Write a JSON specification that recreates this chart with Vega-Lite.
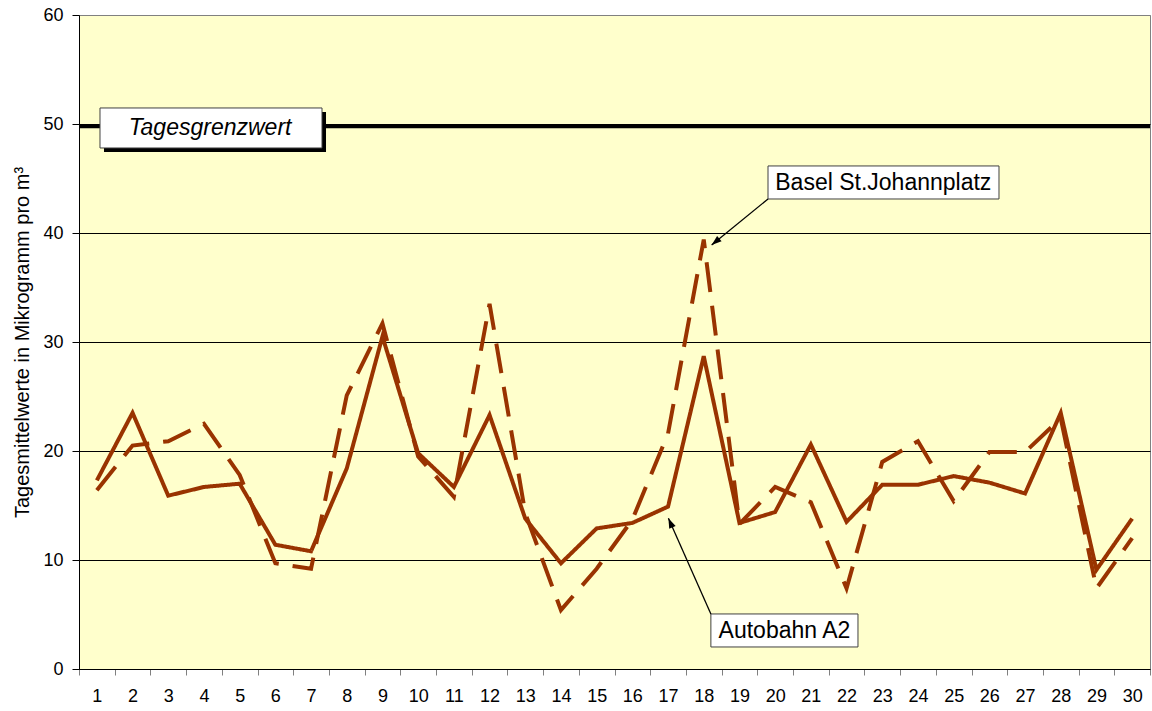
{
  "$schema": "https://vega.github.io/schema/vega-lite/v6.json",
  "width": 1071,
  "height": 654,
  "autosize": {"type": "none"},
  "padding": {"left": 79, "top": 15, "right": 2, "bottom": 42},
  "background": "white",
  "config": {
    "view": {"fill": "#FFFFCC", "stroke": "#808080", "strokeWidth": 1},
    "font": "Liberation Sans"
  },
  "datasets": {
    "series": [
      {"day": 1, "station": "Autobahn A2", "value": 17.3},
      {"day": 2, "station": "Autobahn A2", "value": 23.5},
      {"day": 3, "station": "Autobahn A2", "value": 15.9},
      {"day": 4, "station": "Autobahn A2", "value": 16.7},
      {"day": 5, "station": "Autobahn A2", "value": 17.0},
      {"day": 6, "station": "Autobahn A2", "value": 11.4},
      {"day": 7, "station": "Autobahn A2", "value": 10.8},
      {"day": 8, "station": "Autobahn A2", "value": 18.4},
      {"day": 9, "station": "Autobahn A2", "value": 30.5},
      {"day": 10, "station": "Autobahn A2", "value": 19.8},
      {"day": 11, "station": "Autobahn A2", "value": 16.7},
      {"day": 12, "station": "Autobahn A2", "value": 23.3},
      {"day": 13, "station": "Autobahn A2", "value": 13.8},
      {"day": 14, "station": "Autobahn A2", "value": 9.7},
      {"day": 15, "station": "Autobahn A2", "value": 12.9},
      {"day": 16, "station": "Autobahn A2", "value": 13.4},
      {"day": 17, "station": "Autobahn A2", "value": 14.9},
      {"day": 18, "station": "Autobahn A2", "value": 28.7},
      {"day": 19, "station": "Autobahn A2", "value": 13.4},
      {"day": 20, "station": "Autobahn A2", "value": 14.4},
      {"day": 21, "station": "Autobahn A2", "value": 20.6},
      {"day": 22, "station": "Autobahn A2", "value": 13.5},
      {"day": 23, "station": "Autobahn A2", "value": 16.9},
      {"day": 24, "station": "Autobahn A2", "value": 16.9},
      {"day": 25, "station": "Autobahn A2", "value": 17.7},
      {"day": 26, "station": "Autobahn A2", "value": 17.1},
      {"day": 27, "station": "Autobahn A2", "value": 16.1},
      {"day": 28, "station": "Autobahn A2", "value": 23.5},
      {"day": 29, "station": "Autobahn A2", "value": 9.1},
      {"day": 30, "station": "Autobahn A2", "value": 13.8},
      {"day": 1, "station": "Basel St.Johannplatz", "value": 16.4},
      {"day": 2, "station": "Basel St.Johannplatz", "value": 20.5},
      {"day": 3, "station": "Basel St.Johannplatz", "value": 20.9},
      {"day": 4, "station": "Basel St.Johannplatz", "value": 22.5},
      {"day": 5, "station": "Basel St.Johannplatz", "value": 17.8},
      {"day": 6, "station": "Basel St.Johannplatz", "value": 9.7},
      {"day": 7, "station": "Basel St.Johannplatz", "value": 9.2},
      {"day": 8, "station": "Basel St.Johannplatz", "value": 25.1},
      {"day": 9, "station": "Basel St.Johannplatz", "value": 31.7},
      {"day": 10, "station": "Basel St.Johannplatz", "value": 19.5},
      {"day": 11, "station": "Basel St.Johannplatz", "value": 15.8},
      {"day": 12, "station": "Basel St.Johannplatz", "value": 33.5},
      {"day": 13, "station": "Basel St.Johannplatz", "value": 14.3},
      {"day": 14, "station": "Basel St.Johannplatz", "value": 5.4},
      {"day": 15, "station": "Basel St.Johannplatz", "value": 9.2},
      {"day": 16, "station": "Basel St.Johannplatz", "value": 13.7},
      {"day": 17, "station": "Basel St.Johannplatz", "value": 21.6},
      {"day": 18, "station": "Basel St.Johannplatz", "value": 39.4},
      {"day": 19, "station": "Basel St.Johannplatz", "value": 13.3},
      {"day": 20, "station": "Basel St.Johannplatz", "value": 16.7},
      {"day": 21, "station": "Basel St.Johannplatz", "value": 15.3},
      {"day": 22, "station": "Basel St.Johannplatz", "value": 7.4},
      {"day": 23, "station": "Basel St.Johannplatz", "value": 19.0},
      {"day": 24, "station": "Basel St.Johannplatz", "value": 20.9},
      {"day": 25, "station": "Basel St.Johannplatz", "value": 15.4},
      {"day": 26, "station": "Basel St.Johannplatz", "value": 19.9},
      {"day": 27, "station": "Basel St.Johannplatz", "value": 19.9},
      {"day": 28, "station": "Basel St.Johannplatz", "value": 23.0},
      {"day": 29, "station": "Basel St.Johannplatz", "value": 7.4},
      {"day": 30, "station": "Basel St.Johannplatz", "value": 12.0}
    ],
    "limit": [{"name": "Tagesgrenzwert", "value": 50}],
    "boxes": [
      {"label": "Tagesgrenzwert", "x1": 1.088, "x2": 7.307, "y1": 51.47, "y2": 47.8, "tx": 4.17, "ty": 49.63},
      {"label": "Basel St.Johannplatz", "x1": 19.8, "x2": 26.27, "y1": 46.15, "y2": 43.12, "tx": 23.03, "ty": 44.63},
      {"label": "Autobahn A2", "x1": 18.2, "x2": 22.32, "y1": 5.05, "y2": 2.02, "tx": 20.26, "ty": 3.53}
    ],
    "arrows": [
      {"label": "Basel St.Johannplatz", "x1": 19.8, "y1": 43.12, "x2": 18.22, "y2": 38.9},
      {"label": "Autobahn A2", "x1": 18.2, "y1": 5.05, "x2": 17.01, "y2": 13.83}
    ]
  },
  "layer": [
    {
      "data": {"name": "series"},
      "mark": {"type": "line", "color": "#993300", "strokeWidth": 4, "strokeCap": "butt"},
      "encoding": {
        "x": {
          "field": "day", "type": "quantitative",
          "scale": {"domain": [0.5, 30.5], "nice": false, "zero": false},
          "axis": {
            "values": [0.5, 1.5, 2.5, 3.5, 4.5, 5.5, 6.5, 7.5, 8.5, 9.5, 10.5, 11.5, 12.5, 13.5, 14.5, 15.5, 16.5, 17.5, 18.5, 19.5, 20.5, 21.5, 22.5, 23.5, 24.5, 25.5, 26.5, 27.5, 28.5, 29.5, 30.5],
            "tickCount": 40,
            "labelOffset": 17.85,
            "labelExpr": "datum.value > 30 ? '' : format(datum.value + 0.5, 'd')",
            "title": null, "grid": false, "tickSize": 6, "tickColor": "#808080",
            "domainColor": "black", "labelFontSize": 18, "labelColor": "black",
            "labelPadding": 12, "labelOverlap": false, "labelFlush": false,
            "labelFont": "Liberation Sans"
          }
        },
        "y": {
          "field": "value", "type": "quantitative",
          "scale": {"domain": [0, 60], "nice": false},
          "axis": {
            "values": [0, 10, 20, 30, 40, 50, 60],
            "grid": true,
            "gridColor": {"condition": {"test": "datum.value == 60", "value": "#808080"}, "value": "black"},
            "gridWidth": 1, "tickSize": 7, "tickColor": "black", "domainColor": "black",
            "labelFontSize": 18, "labelColor": "black", "labelPadding": 9, "labelFont": "Liberation Sans",
            "title": "Tagesmittelwerte in Mikrogramm pro m³",
            "titleFontSize": 20, "titleFontWeight": "normal", "titleFont": "Liberation Sans",
            "titleColor": "black", "titleAngle": 270, "titleX": -57, "titleY": 327,
            "titleAlign": "center", "titleBaseline": "middle"
          }
        },
        "strokeDash": {
          "field": "station", "type": "nominal",
          "scale": {"domain": ["Autobahn A2", "Basel St.Johannplatz"], "range": [[1, 0], [30, 14]]},
          "legend": null
        }
      }
    },
    {
      "data": {"name": "limit"},
      "mark": {"type": "rule", "color": "black", "strokeWidth": 3.5, "yOffset": 2.5},
      "encoding": {"y": {"field": "value", "type": "quantitative"}}
    },
    {
      "data": {"name": "boxes"},
      "transform": [{"filter": "datum.label == 'Tagesgrenzwert'"}],
      "mark": {"type": "rect", "fill": "black", "xOffset": 4, "x2Offset": 4, "yOffset": 4, "y2Offset": 4},
      "encoding": {
        "x": {"field": "x1", "type": "quantitative"},
        "x2": {"field": "x2"},
        "y": {"field": "y1", "type": "quantitative"},
        "y2": {"field": "y2"}
      }
    },
    {
      "data": {"name": "boxes"},
      "mark": {"type": "rect", "fill": "white", "stroke": "#404040", "strokeWidth": 1},
      "encoding": {
        "x": {"field": "x1", "type": "quantitative"},
        "x2": {"field": "x2"},
        "y": {"field": "y1", "type": "quantitative"},
        "y2": {"field": "y2"}
      }
    },
    {
      "data": {"name": "boxes"},
      "transform": [{"filter": "datum.label == 'Tagesgrenzwert'"}],
      "mark": {"type": "text", "font": "Liberation Sans", "fontSize": 23, "fontStyle": "italic", "color": "black", "align": "center", "baseline": "middle"},
      "encoding": {
        "x": {"field": "tx", "type": "quantitative"},
        "y": {"field": "ty", "type": "quantitative"},
        "text": {"field": "label"}
      }
    },
    {
      "data": {"name": "boxes"},
      "transform": [{"filter": "datum.label != 'Tagesgrenzwert'"}],
      "mark": {"type": "text", "font": "Liberation Sans", "fontSize": 23, "color": "black", "align": "center", "baseline": "middle"},
      "encoding": {
        "x": {"field": "tx", "type": "quantitative"},
        "y": {"field": "ty", "type": "quantitative"},
        "text": {"field": "label"}
      }
    },
    {
      "data": {"name": "arrows"},
      "mark": {"type": "rule", "color": "black", "strokeWidth": 1.3},
      "encoding": {
        "x": {"field": "x1", "type": "quantitative"},
        "y": {"field": "y1", "type": "quantitative"},
        "x2": {"field": "x2"},
        "y2": {"field": "y2"}
      }
    },
    {
      "data": {"name": "arrows"},
      "transform": [{"filter": "datum.label == 'Basel St.Johannplatz'"}],
      "mark": {"type": "point", "shape": "M0,0L-0.35,1L0.35,1Z", "filled": true, "color": "black", "opacity": 1, "size": 400, "angle": 230.75},
      "encoding": {
        "x": {"field": "x2", "type": "quantitative"},
        "y": {"field": "y2", "type": "quantitative"}
      }
    },
    {
      "data": {"name": "arrows"},
      "transform": [{"filter": "datum.label == 'Autobahn A2'"}],
      "mark": {"type": "point", "shape": "M0,0L-0.35,1L0.35,1Z", "filled": true, "color": "black", "opacity": 1, "size": 400, "angle": 336.3},
      "encoding": {
        "x": {"field": "x2", "type": "quantitative"},
        "y": {"field": "y2", "type": "quantitative"}
      }
    }
  ]
}
